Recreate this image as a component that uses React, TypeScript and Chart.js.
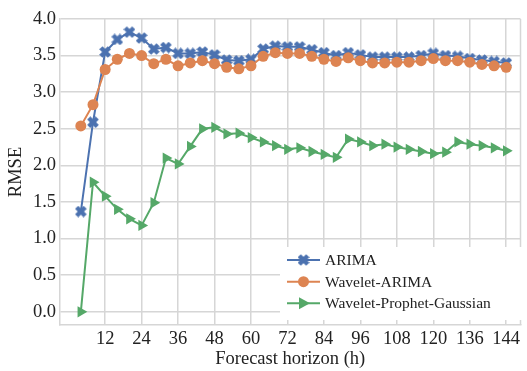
import React, { useEffect, useRef } from 'react';
import { Chart, registerables } from 'chart.js';

Chart.register(...registerables);

const hours = [4, 8, 12, 16, 20, 24, 28, 32, 36, 40, 44, 48, 52, 56, 60, 64, 68, 72, 76, 80, 84, 88, 92, 96, 100, 104, 108, 112, 116, 120, 124, 128, 132, 136, 140, 144];

const arima = [1.37, 2.59, 3.55, 3.72, 3.82, 3.74, 3.59, 3.61, 3.53, 3.53,
  3.55, 3.51, 3.44, 3.43, 3.45, 3.59, 3.63, 3.62, 3.62, 3.58,
  3.54, 3.50, 3.54, 3.51, 3.48, 3.48, 3.48, 3.48, 3.50, 3.53,
  3.50, 3.49, 3.46, 3.44, 3.42, 3.40];

const waveletArima = [2.54, 2.83, 3.31, 3.45, 3.53, 3.50, 3.39, 3.45, 3.36, 3.40,
  3.43, 3.39, 3.34, 3.32, 3.36, 3.49, 3.54, 3.53, 3.53, 3.49,
  3.45, 3.42, 3.47, 3.43, 3.40, 3.40, 3.41, 3.41, 3.43, 3.46,
  3.43, 3.43, 3.41, 3.38, 3.36, 3.34];

const waveletProphetGaussian = [0.0, 1.77, 1.58, 1.40, 1.27, 1.18, 1.49, 2.10, 2.02, 2.26,
  2.50, 2.52, 2.43, 2.44, 2.38, 2.32, 2.27, 2.22, 2.24, 2.19,
  2.15, 2.11, 2.36, 2.32, 2.27, 2.29, 2.25, 2.22, 2.19, 2.16,
  2.18, 2.32, 2.29, 2.27, 2.24, 2.20];

const seriesNames = ['ARIMA', 'Wavelet-ARIMA', 'Wavelet-Prophet-Gaussian'];
const xTickValues = [12, 24, 36, 48, 60, 72, 84, 96, 108, 120, 132, 144];
const xTickLabels = ['12', '24', '36', '48', '60', '72', '84', '96', '108', '120', '136', '144'];
const yTickValues = [0, 0.5, 1.0, 1.5, 2.0, 2.5, 3.0, 3.5, 4.0];

const BLUE = '#4c72b0';
const ORANGE = '#dd8452';
const GREEN = '#55a868';
const GRID = 'rgb(214,214,214)';
const TEXT = '#222222';
const FONT = "'Liberation Serif', 'Times New Roman', serif";
const AXIS_FONT_SIZE = 18.5;
const LEGEND_FONT_SIZE = 15.5;

function makeXMarker(color: string, size: number): HTMLCanvasElement {
  const c = document.createElement('canvas');
  c.width = size;
  c.height = size;
  const ctx = c.getContext('2d')!;
  ctx.translate(size / 2, size / 2);
  ctx.rotate(Math.PI / 4);
  ctx.fillStyle = color;
  const a = size * 0.5;
  const w = size * 0.19;
  ctx.fillRect(-a, -w, 2 * a, 2 * w);
  ctx.fillRect(-w, -a, 2 * w, 2 * a);
  return c;
}

export default function App() {
  const ref = useRef<HTMLCanvasElement | null>(null);

  useEffect(() => {
    if (!ref.current) return;
    const xMarker = makeXMarker(BLUE, 12);

    const legendPlugin = {
      id: 'customLegend',
      afterDraw(chart: any) {
        const ctx = chart.ctx as CanvasRenderingContext2D;
        const area = chart.chartArea;
        ctx.save();
        // right spine
        ctx.strokeStyle = GRID;
        ctx.lineWidth = 1.5;
        ctx.beginPath();
        ctx.moveTo(area.right, area.top);
        ctx.lineTo(area.right, area.bottom);
        ctx.stroke();
        // legend box
        const bx = 280, by = 247, bw = 250, bh = 73;
        ctx.fillStyle = '#ffffff';
        ctx.fillRect(bx, by, bw, bh);
        const colors = [BLUE, ORANGE, GREEN];
        const rowsY = [260, 281.7, 303.3];
        for (let i = 0; i < 3; i++) {
          const y = rowsY[i];
          ctx.strokeStyle = colors[i];
          ctx.lineWidth = 2;
          ctx.beginPath();
          ctx.moveTo(287, y);
          ctx.lineTo(320, y);
          ctx.stroke();
          const cx = 303.5;
          ctx.fillStyle = colors[i];
          if (i === 0) {
            ctx.drawImage(xMarker, cx - 6, y - 6, 12, 12);
          } else if (i === 1) {
            ctx.beginPath();
            ctx.arc(cx, y, 5.5, 0, Math.PI * 2);
            ctx.fill();
          } else {
            ctx.beginPath();
            ctx.moveTo(cx + 6.5, y);
            ctx.lineTo(cx - 4.5, y - 6);
            ctx.lineTo(cx - 4.5, y + 6);
            ctx.closePath();
            ctx.fill();
          }
          ctx.fillStyle = TEXT;
          ctx.font = `${LEGEND_FONT_SIZE}px ${FONT}`;
          ctx.textBaseline = 'middle';
          ctx.textAlign = 'left';
          ctx.fillText(seriesNames[i], 325, y + 1);
        }
        ctx.restore();
      },
    };

    const chart = new Chart(ref.current, {
      type: 'line',
      data: {
        labels: hours,
        datasets: [
          {
            label: seriesNames[0],
            data: hours.map((h, i) => ({ x: h, y: arima[i] })),
            borderColor: BLUE,
            backgroundColor: BLUE,
            borderWidth: 2,
            pointStyle: xMarker as any,
            pointRadius: 6,
            pointBorderWidth: 0,
            order: 3,
          },
          {
            label: seriesNames[1],
            data: hours.map((h, i) => ({ x: h, y: waveletArima[i] })),
            borderColor: ORANGE,
            backgroundColor: ORANGE,
            borderWidth: 2,
            pointStyle: 'circle',
            pointRadius: 5.5,
            pointBorderWidth: 0,
            order: 2,
          },
          {
            label: seriesNames[2],
            data: hours.map((h, i) => ({ x: h, y: waveletProphetGaussian[i] })),
            borderColor: GREEN,
            backgroundColor: GREEN,
            borderWidth: 2,
            pointStyle: 'triangle',
            pointRotation: 90,
            pointRadius: 6.5,
            pointBorderWidth: 0,
            order: 1,
          },
        ],
      },
      options: {
        responsive: false,
        animation: false,
        layout: { padding: { top: 19, right: 1, left: 0, bottom: 0 } },
        plugins: { legend: { display: false }, tooltip: { enabled: false } },
        elements: { line: { tension: 0 } },
        scales: {
          x: {
            type: 'linear',
            min: -2.86,
            max: 148.7,
            afterBuildTicks: (s: any) => {
              s.ticks = xTickValues.map((v) => ({ value: v }));
            },
            afterFit: (s: any) => {
              s.height = 46;
            },
            ticks: {
              callback: (_v: any, i: number) => xTickLabels[i],
              font: { family: FONT, size: AXIS_FONT_SIZE },
              color: TEXT,
              padding: 3,
              maxRotation: 0,
              autoSkip: false,
            },
            grid: { color: GRID, lineWidth: 1.5, drawTicks: false },
            border: { color: GRID, width: 1.5 },
            title: {
              display: true,
              text: 'Forecast horizon (h)',
              font: { family: FONT, size: AXIS_FONT_SIZE },
              color: TEXT,
              padding: { top: 0, bottom: 1 },
            },
          },
          y: {
            min: -0.18,
            max: 4.0,
            afterBuildTicks: (s: any) => {
              s.ticks = yTickValues.map((v) => ({ value: v }));
            },
            afterFit: (s: any) => {
              s.width = 60;
            },
            ticks: {
              callback: (v: any) => Number(v).toFixed(1),
              font: { family: FONT, size: AXIS_FONT_SIZE },
              color: TEXT,
              padding: 4,
            },
            grid: { color: GRID, lineWidth: 1.5, drawTicks: false },
            border: { color: GRID, width: 1.5 },
            title: {
              display: true,
              text: 'RMSE',
              font: { family: FONT, size: AXIS_FONT_SIZE },
              color: TEXT,
              padding: { top: 5.5, bottom: 0 },
            },
          },
        },
      },
      plugins: [legendPlugin],
    } as any);

    return () => chart.destroy();
  }, []);

  return (
    <div style={{ position: 'absolute', left: 0, top: 0, width: 527, height: 371 }}>
      <canvas ref={ref} width={527} height={371} style={{ width: 527, height: 371 }} />
    </div>
  );
}
